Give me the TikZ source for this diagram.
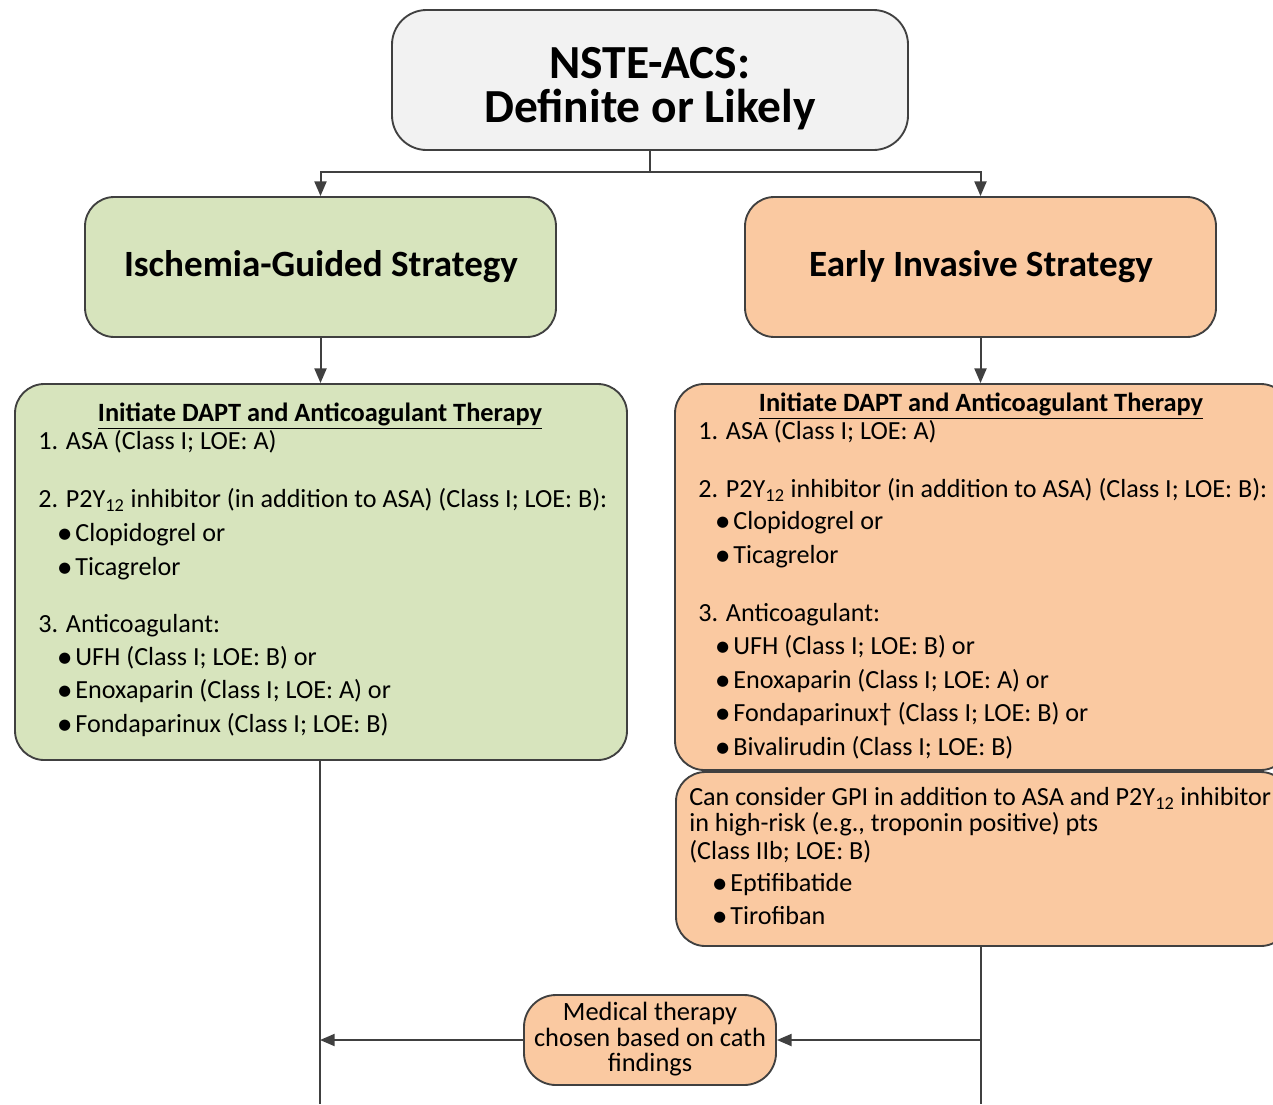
\documentclass[tikz,border=0pt]{standalone}
\usepackage{fontspec}
\setmainfont{Carlito}
\newfontfamily\dejavu{DejaVu Sans}
\usetikzlibrary{arrows.meta}
\definecolor{bordc}{HTML}{404040}
\definecolor{greyfill}{HTML}{F2F2F2}
\definecolor{greenfill}{HTML}{D7E4BD}
\definecolor{orangefill}{HTML}{FAC9A1}
\newcommand\bul{\raisebox{0.1em}{\dejavu\fontsize{11}{11}\selectfont ●}\,}
\begin{document}
\begin{tikzpicture}[x=0.75pt,y=-0.75pt,
  box/.style={draw=bordc, line width=1.4pt, rounded corners=22pt, inner sep=0pt},
  conn/.style={draw=bordc, line width=1.5pt},
  arr/.style={conn, -{Triangle[length=11pt,width=9pt]}},
  body/.style={font=\fontsize{19.6}{23}\selectfont, inner sep=0pt, anchor=base west},
  btitle/.style={font=\fontsize{19.8}{23}\selectfont\bfseries, inner sep=0pt, anchor=base},
  big/.style={font=\fontsize{35.6}{42}\selectfont\bfseries, inner sep=0pt, anchor=base},
  strat/.style={font=\fontsize{27.8}{33}\selectfont\bfseries, inner sep=0pt, anchor=base},
  small/.style={font=\fontsize{19.8}{23}\selectfont, inner sep=0pt, anchor=base}]
\useasboundingbox (0,0) rectangle (1273,1104);
\clip (0,0) rectangle (1273,1104);

% boxes
\node[box, fill=greyfill, rounded corners=26pt, minimum width=387pt, minimum height=105pt] (top) at (650,80) {};
\node[box, fill=greenfill, minimum width=353.25pt, minimum height=105pt] (ls) at (320.5,267) {};
\node[box, fill=orangefill, minimum width=353.25pt, minimum height=105pt] (rs) at (980.5,267) {};
\node[box, fill=greenfill, minimum width=459pt, minimum height=282pt] (lt) at (321,572) {};
\node[box, fill=orangefill, minimum width=461.25pt, minimum height=289.5pt] (rt) at (982.5,577) {};
\node[box, fill=orangefill, minimum width=460.5pt, minimum height=130.5pt] (gpi) at (983,859) {};
\node[box, fill=orangefill, rounded corners=24pt, minimum width=189pt, minimum height=67.5pt] (med) at (650,1040) {};

% connectors
\coordinate (jn) at (650,172);
\coordinate (lbot) at (320,1104);
\coordinate (rbot) at (981,1104);
\coordinate (rjoin) at (981,1040);
\draw[conn] (top.south) -- (jn);
\draw[arr] (jn) -| (ls.north);
\draw[arr] (jn) -| (rs.north);
\draw[arr] (ls.south) -- (ls.south |- lt.north);
\draw[arr] (rs.south) -- (rs.south |- rt.north);
\draw[conn] (lt.south -| lbot) -- (lbot);
\draw[conn] (gpi.south -| rbot) -- (rbot);
\draw[arr] (rjoin) -- (med.east);
\draw[arr] (med.west) -- (lbot |- med.west);

% top texts
\node[big] (t1) at (650,78) {NSTE-ACS:};
\node[big] (t2) at (650,122) {Definite or Likely};
\node[strat] (s1) at (321,276) {Ischemia-Guided Strategy};
\node[strat] (s2) at (981,276) {Early Invasive Strategy};

% left therapy
\node[btitle] (lh) at (320,421.5) {\underline{Initiate DAPT and Anticoagulant Therapy}};
\node[body] (l1) at (38,449.5) {1. ASA (Class I; LOE: A)};
\node[body] (l2) at (38,507.5) {2. P2Y\textsubscript{12} inhibitor (in addition to ASA) (Class I; LOE: B):};
\node[body] (l3) at (58,541.5) {\bul Clopidogrel or};
\node[body] (l4) at (58,575.5) {\bul Ticagrelor};
\node[body] (l5) at (38,632.5) {3. Anticoagulant:};
\node[body] (l6) at (58,665.5) {\bul UFH (Class I; LOE: B) or};
\node[body] (l7) at (58,698.5) {\bul Enoxaparin (Class I; LOE: A) or};
\node[body] (l8) at (58,732.5) {\bul Fondaparinux (Class I; LOE: B)};

% right therapy
\node[btitle] (rh) at (981,411.5) {\underline{Initiate DAPT and Anticoagulant Therapy}};
\node[body] (r1) at (698,439.5) {1. ASA (Class I; LOE: A)};
\node[body] (r2) at (698,497.5) {2. P2Y\textsubscript{12} inhibitor (in addition to ASA) (Class I; LOE: B):};
\node[body] (r3) at (716,529.5) {\bul Clopidogrel or};
\node[body] (r4) at (716,563.5) {\bul Ticagrelor};
\node[body] (r5) at (698,621.5) {3. Anticoagulant:};
\node[body] (r6) at (716,654.5) {\bul UFH (Class I; LOE: B) or};
\node[body] (r7) at (716,688.5) {\bul Enoxaparin (Class I; LOE: A) or};
\node[body] (r8) at (716,721.5) {\bul Fondaparinux† (Class I; LOE: B) or};
\node[body] (r9) at (716,755.5) {\bul Bivalirudin (Class I; LOE: B)};

% GPI
\node[body] (g1) at (689,805.5) {Can consider GPI in addition to ASA and P2Y\textsubscript{12} inhibitor};
\node[body] (g2) at (689,831.5) {in high-risk (e.g., troponin positive) pts};
\node[body] (g3) at (689,859.5) {(Class IIb; LOE: B)};
\node[body] (g4) at (713,891.5) {\bul Eptifibatide};
\node[body] (g5) at (713,924.5) {\bul Tirofiban};

% medical therapy
\node[small] (m1) at (650,1020) {Medical therapy};
\node[small] (m2) at (650,1046) {chosen based on cath};
\node[small] (m3) at (650,1071) {findings};
\end{tikzpicture}
\end{document}
